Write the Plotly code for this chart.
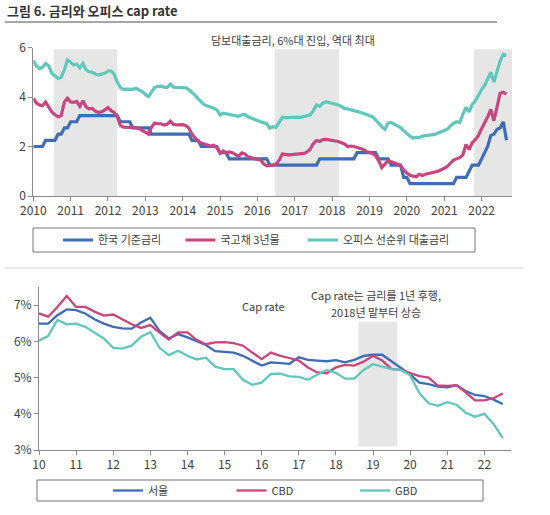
import plotly.graph_objects as go
import pandas as pd

W, H = 550, 515

# ---------------- Top chart: monthly, Jan 2010 - Sep 2022 ----------------
top_start = "2010-01-01"
base_rate = [
    2.00, 2.00, 2.00, 2.00, 2.25, 2.25, 2.25, 2.25, 2.50, 2.50, 2.75, 2.75,
    3.00, 3.00, 3.00, 3.25, 3.25, 3.25, 3.25, 3.25, 3.25, 3.25, 3.25, 3.25,
    3.25, 3.25, 3.25, 3.25, 3.00, 3.00, 3.00, 3.00, 2.75, 2.75, 2.75, 2.75,
    2.75, 2.75, 2.50, 2.50, 2.50, 2.50, 2.50, 2.50, 2.50, 2.50, 2.50, 2.50,
    2.50, 2.50, 2.50, 2.25, 2.25, 2.25, 2.00, 2.00, 2.00, 2.00, 2.00, 2.00,
    1.75, 1.75, 1.75, 1.50, 1.50, 1.50, 1.50, 1.50, 1.50, 1.50, 1.50, 1.50,
    1.50, 1.50, 1.50, 1.50, 1.25, 1.25, 1.25, 1.25, 1.25, 1.25, 1.25, 1.25,
    1.25, 1.25, 1.25, 1.25, 1.25, 1.25, 1.25, 1.25, 1.50, 1.50, 1.50, 1.50,
    1.50, 1.50, 1.50, 1.50, 1.50, 1.50, 1.50, 1.50, 1.75, 1.75, 1.75, 1.75,
    1.75, 1.75, 1.75, 1.50, 1.50, 1.50, 1.50, 1.25, 1.25, 1.25, 1.25, 0.75,
    0.75, 0.50, 0.50, 0.50, 0.50, 0.50, 0.50, 0.50, 0.50, 0.50, 0.50, 0.50,
    0.50, 0.50, 0.50, 0.50, 0.75, 0.75, 0.75, 0.75, 1.00, 1.25, 1.25, 1.25,
    1.50, 1.75, 2.00, 2.45, 2.50, 2.70, 2.75, 3.00, 2.25,
]
ktb_3y = [
    3.95, 3.75, 3.68, 3.65, 3.80, 3.62, 3.40, 3.28, 3.20, 3.25, 3.80, 3.95,
    3.80, 3.78, 3.82, 3.62, 3.85, 3.60, 3.52, 3.54, 3.42, 3.38, 3.40, 3.48,
    3.57, 3.45, 3.38, 3.20, 2.85, 2.78, 2.77, 2.78, 2.78, 2.76, 2.72, 2.65,
    2.55, 2.50, 2.78, 2.95, 2.92, 2.92, 2.87, 2.90, 3.02, 2.90, 2.87, 2.88,
    2.88, 2.84, 2.75, 2.50, 2.35, 2.20, 2.14, 2.10, 2.06, 2.02, 2.05, 1.95,
    1.72, 1.82, 1.75, 1.78, 1.75, 1.68, 1.60, 1.74, 1.70, 1.58, 1.54, 1.52,
    1.48, 1.46, 1.30, 1.22, 1.22, 1.25, 1.28, 1.45, 1.70, 1.67, 1.66, 1.67,
    1.68, 1.70, 1.70, 1.72, 1.78, 1.90, 2.12, 2.24, 2.20, 2.28, 2.29, 2.27,
    2.25, 2.22, 2.20, 2.15, 2.10, 2.00, 2.02, 2.00, 1.96, 1.92, 1.88, 1.80,
    1.75, 1.72, 1.62, 1.42, 1.15, 1.30, 1.43, 1.38, 1.34, 1.29, 1.22, 1.05,
    0.93, 0.84, 0.80, 0.78, 0.88, 0.83, 0.88, 0.92, 0.94, 0.97, 1.00, 1.05,
    1.12, 1.20, 1.32, 1.45, 1.50, 1.55, 1.65, 2.08, 1.88, 2.15, 2.28, 2.45,
    2.72, 2.95, 3.20, 3.50, 3.04, 3.60, 4.15, 4.19, 4.12,
]
office_loan = [
    5.47, 5.25, 5.15, 5.20, 5.35, 5.25, 4.96, 4.85, 4.75, 4.80, 5.10, 5.50,
    5.38, 5.29, 5.33, 5.18, 5.36, 5.10, 5.02, 5.00, 4.93, 4.89, 4.93, 4.96,
    5.05, 5.05, 4.92, 4.60, 4.38, 4.31, 4.32, 4.30, 4.31, 4.35, 4.29, 4.22,
    4.10, 4.02, 4.20, 4.38, 4.42, 4.44, 4.40, 4.38, 4.52, 4.40, 4.39, 4.37,
    4.38, 4.37, 4.30, 4.18, 4.08, 3.92, 3.78, 3.68, 3.64, 3.60, 3.55, 3.48,
    3.28, 3.35, 3.33, 3.31, 3.28, 3.24, 3.22, 3.28, 3.30, 3.20, 3.14, 3.08,
    3.05, 3.00, 2.96, 2.92, 2.74, 2.80, 2.77, 2.95, 3.18, 3.17, 3.18, 3.19,
    3.20, 3.19, 3.18, 3.21, 3.24, 3.28, 3.45, 3.68, 3.62, 3.75, 3.81, 3.78,
    3.74, 3.69, 3.68, 3.62, 3.54, 3.52, 3.49, 3.45, 3.41, 3.37, 3.34, 3.29,
    3.24, 3.20, 3.08, 2.92, 2.80, 2.70, 2.95, 2.97, 2.91, 2.82, 2.76, 2.64,
    2.52, 2.42, 2.34, 2.37, 2.36, 2.42, 2.44, 2.46, 2.48, 2.49, 2.55, 2.60,
    2.65, 2.70, 2.82, 2.94, 3.00, 2.97, 3.30, 3.58, 3.40, 3.70, 3.85, 4.10,
    4.30, 4.48, 4.75, 5.00, 4.60, 5.05, 5.45, 5.73, 5.68,
]
top_names = ["한국 기준금리", "국고채 3년물", "오피스 선순위 대출금리"]
top_shade = [("2010-07-20", "2012-04-01"), ("2016-06-20", "2018-03-10"), ("2021-10-20", "2022-11-01")]
top_yticks = [0, 2, 4, 6]

# ---------------- Bottom chart: quarterly cap rate, 2010Q1 - 2022Q3 ----------------
bot_start = "2010-01-01"
seoul = [
    6.49, 6.49, 6.72, 6.88, 6.86, 6.77, 6.61, 6.49, 6.40, 6.36,
    6.35, 6.52, 6.65, 6.29, 6.08, 6.20, 6.11, 6.01, 5.90, 5.73,
    5.71, 5.69, 5.60, 5.47, 5.33, 5.42, 5.40, 5.38, 5.56, 5.49,
    5.47, 5.45, 5.48, 5.42, 5.49, 5.60, 5.63, 5.63, 5.45, 5.28,
    5.09, 4.86, 4.82, 4.75, 4.73, 4.79, 4.63, 4.52, 4.49, 4.39,
    4.27,
]
cbd = [
    6.77, 6.68, 6.95, 7.25, 6.95, 6.95, 6.82, 6.71, 6.74, 6.61,
    6.47, 6.37, 6.45, 6.24, 6.05, 6.25, 6.25, 6.04, 5.92, 5.97,
    5.98, 5.95, 5.88, 5.69, 5.51, 5.69, 5.60, 5.54, 5.47, 5.28,
    5.14, 5.12, 5.28, 5.35, 5.33, 5.44, 5.60, 5.47, 5.24, 5.21,
    5.12, 5.04, 5.00, 4.78, 4.77, 4.79, 4.59, 4.37, 4.37, 4.43,
    4.56,
]
gbd = [
    6.02, 6.15, 6.59, 6.47, 6.49, 6.40, 6.24, 6.08, 5.82, 5.80,
    5.88, 6.13, 6.25, 5.82, 5.62, 5.74, 5.60, 5.50, 5.55, 5.30,
    5.23, 5.23, 4.94, 4.80, 4.86, 5.10, 5.11, 5.03, 5.02, 4.94,
    5.08, 5.21, 5.13, 4.97, 4.97, 5.21, 5.37, 5.29, 5.23, 5.21,
    5.06, 4.57, 4.29, 4.22, 4.32, 4.25, 4.03, 3.92, 4.00, 3.72,
    3.33,
]
bot_names = ["서울", "CBD", "GBD"]
bot_shade = ("2018-08-10", "2019-08-25")
bot_yticks = [3, 4, 5, 6, 7]
bot_yticklabels = ["3%", "4%", "5%", "6%", "7%"]

colors = ["#3E6DB5", "#C8457F", "#5FC7BC"]
FONT = "Noto Sans CJK KR"
TXT = "#404040"
AX = "#8a8a8a"

def px(x):
    return x / W

def py(y):
    return 1 - y / H

top_x = pd.date_range(top_start, periods=len(base_rate), freq="MS")
bot_x = pd.date_range(bot_start, periods=len(seoul), freq="QS")

fig = go.Figure()
top_lw = [None, None, 110]
for name, ys, c, lw in zip(top_names, [base_rate, ktb_3y, office_loan], colors, top_lw):
    fig.add_trace(go.Scatter(x=top_x, y=ys, name=name, mode="lines",
                             line=dict(color=c, width=3.2), xaxis="x", yaxis="y",
                             legend="legend", legendwidth=lw))
for name, ys, c in zip(bot_names, [seoul, cbd, gbd], colors):
    fig.add_trace(go.Scatter(x=bot_x, y=ys, name=name, mode="lines",
                             line=dict(color=c, width=2.3), xaxis="x2", yaxis="y2",
                             legend="legend2"))

shapes = []
for a, b in top_shade:
    shapes.append(dict(type="rect", xref="x", yref="y", x0=a, x1=b, y0=0, y1=5.93,
                       fillcolor="#E6E6E6", line=dict(width=0), layer="below"))
shapes.append(dict(type="rect", xref="x2", yref="y2", x0=bot_shade[0], x1=bot_shade[1],
                   y0=3.1, y1=6.54, fillcolor="#E6E6E6", line=dict(width=0), layer="below"))
# title rule and separators
shapes.append(dict(type="line", xref="paper", yref="paper", x0=px(5), x1=px(497),
                   y0=py(22), y1=py(22), line=dict(color="#888888", width=1.5)))
shapes.append(dict(type="line", xref="paper", yref="paper", x0=px(5), x1=px(523),
                   y0=py(268), y1=py(268), line=dict(color="#d0d0d0", width=1)))
# legend boxes
shapes.append(dict(type="rect", xref="paper", yref="paper", x0=px(33), x1=px(475),
                   y0=py(252), y1=py(228), line=dict(color="#777777", width=1)))
shapes.append(dict(type="rect", xref="paper", yref="paper", x0=px(37), x1=px(483),
                   y0=py(501), y1=py(480), line=dict(color="#777777", width=1)))

annotations = [
    dict(text="<b>그림 6. 금리와 오피스 cap rate</b>", x=px(5), y=py(11), xref="paper", yref="paper",
         xanchor="left", yanchor="middle", showarrow=False, font=dict(size=13, color="#333333", family=FONT)),
    dict(text="담보대출금리, 6%대 진입, 역대 최대", x=px(293), y=py(40), xref="paper", yref="paper",
         xanchor="center", yanchor="middle", showarrow=False, font=dict(size=11, color=TXT, family=FONT)),
    dict(text="Cap rate", x=px(240), y=py(306), xref="paper", yref="paper",
         xanchor="left", yanchor="middle", showarrow=False, font=dict(size=11, color=TXT, family=FONT)),
    dict(text="Cap rate는 금리를 1년 후행,", x=px(376), y=py(295), xref="paper", yref="paper",
         xanchor="center", yanchor="middle", showarrow=False,
         font=dict(size=11, color=TXT, family=FONT)),
    dict(text="2018년 말부터 상승", x=px(376), y=py(312), xref="paper", yref="paper",
         xanchor="center", yanchor="middle", showarrow=False,
         font=dict(size=11, color=TXT, family=FONT)),
]

axis_common = dict(showline=True, linecolor=AX, linewidth=1, ticks="outside", ticklen=4,
                   tickcolor=AX, showgrid=False, zeroline=False, automargin=False,
                   tickfont=dict(size=12, color=TXT, family=FONT))

fig.update_layout(
    width=W, height=H, margin=dict(l=0, r=0, t=0, b=0, pad=0, autoexpand=False),
    paper_bgcolor="white", plot_bgcolor="white",
    font=dict(family=FONT, color=TXT),
    shapes=shapes, annotations=annotations,
    xaxis=dict(domain=[px(33.3), px(512)], range=["2010-01-01", "2022-10-25"],
               dtick="M12", tick0="2010-01-01", tickformat="%Y", anchor="y", **axis_common),
    yaxis=dict(domain=[py(196), py(47.5)], range=[0, 6], tickvals=top_yticks, anchor="x",
               **axis_common),
    xaxis2=dict(domain=[px(39), px(511)], range=["2010-01-01", "2022-09-20"],
                dtick="M12", tick0="2010-01-01", tickformat="%y", anchor="y2", **axis_common),
    yaxis2=dict(domain=[py(450), py(287)], range=[3, 7.5], tickvals=bot_yticks,
                ticktext=bot_yticklabels, anchor="x2", **axis_common),
    legend=dict(orientation="h", x=px(58), xanchor="left", y=py(240), yanchor="middle",
                entrywidth=77.5, entrywidthmode="pixels", bgcolor="rgba(0,0,0,0)",
                font=dict(size=11, color=TXT, family=FONT), traceorder="normal"),
    legend2=dict(orientation="h", x=px(108), xanchor="left", y=py(490.5), yanchor="middle",
                 entrywidth=78.5, entrywidthmode="pixels", bgcolor="rgba(0,0,0,0)",
                 font=dict(size=11, color=TXT, family=FONT), traceorder="normal"),
    showlegend=True,
)

fig.write_html("out.html", config={"displayModeBar": False},
               post_script="document.body.style.margin='0px';")
